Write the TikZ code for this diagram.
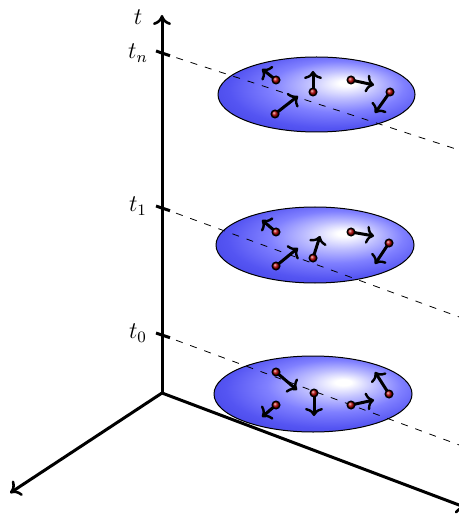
\documentclass[tikz,border=0pt]{standalone}
\usetikzlibrary{arrows.meta}
\pgfdeclareradialshading{disc}{\pgfpoint{8bp}{8bp}}{%
  color(0bp)=(white);
  color(2bp)=(white);
  color(9bp)=(blue!25!white);
  color(17bp)=(blue!50!white);
  color(26bp)=(blue!65!white!95!black);
  color(36bp)=(blue!72!white!88!black);
  color(50bp)=(blue!72!white!88!black)}
\tikzset{
  axis/.style={line width=1.5bp, -{To[length=5bp,width=9bp,line width=1.3bp]}},
  tick/.style={line width=1.5bp},
  timeline/.style={dashed, dash pattern=on 3.5bp off 4bp, line width=0.4bp},
  slice/.style={shade, shading=disc, draw=black, line width=0.5bp},
  vel/.style={line width=1.5bp, -{To[length=4bp,width=9bp,line width=1.2bp]}},
  particle/.style={ball color=red!70!black, draw=black, line width=0.7bp},
  lab/.style={inner sep=0pt, anchor=center, font=\fontsize{12}{14}\selectfont}
}
\begin{document}
\begin{tikzpicture}[x=0.5bp,y=-0.5bp]
\useasboundingbox (0,0) rectangle (459,515);

% axes
\coordinate (O) at (162,393);
\coordinate (T) at (162,15);
\coordinate (X) at (10,493);
\coordinate (Y) at (467,508);
\draw[axis] (O) -- (T);
\draw[axis] (O) -- (X);
\draw[axis] (O) -- (Y);

% time ticks
\coordinate (tn) at (162,53);
\coordinate (t1) at (162,208);
\coordinate (t0) at (162,335);
\foreach \c in {tn,t1,t0}{
  \draw[tick] ([shift={(-6,-2)}]\c) -- ([shift={(8,2.7)}]\c);
}
\node[lab] (lt) at (138,17) {$t$};
\node[lab] (ltn) at (138,53) {$t_n$};
\node[lab] (lt1) at (138,206) {$t_1$};
\node[lab] (lt0) at (138,333) {$t_0$};

% slices
\path[slice] (316.5,94.5) ellipse [x radius=98.5, y radius=37.5];
\path[slice] (315,245) ellipse [x radius=99, y radius=38];
\path[slice] (313,394) ellipse [x radius=99, y radius=38];

% dashed time lines
\coordinate (en) at (462,151);
\coordinate (e1) at (462,318);
\coordinate (e0) at (462,446);
\draw[timeline] (tn) -- (en);
\draw[timeline] (t1) -- (e1);
\draw[timeline] (t0) -- (e0);

% particles: top slice
\coordinate (a1) at (276,80);  \coordinate (a1v) at (262,69);
\coordinate (a2) at (313,92);  \coordinate (a2v) at (313,71);
\coordinate (a3) at (351,80);  \coordinate (a3v) at (374,85);
\coordinate (a4) at (390,92);  \coordinate (a4v) at (375,113);
\coordinate (a5) at (275,114); \coordinate (a5v) at (298,96);
% middle slice
\coordinate (b1) at (276,232); \coordinate (b1v) at (262,220);
\coordinate (b2) at (313,258); \coordinate (b2v) at (320,236);
\coordinate (b3) at (351,232); \coordinate (b3v) at (374,236);
\coordinate (b4) at (389,243); \coordinate (b4v) at (375,264);
\coordinate (b5) at (276,266); \coordinate (b5v) at (298,248);
% bottom slice
\coordinate (c1) at (276,372); \coordinate (c1v) at (297,390);
\coordinate (c2) at (314,393); \coordinate (c2v) at (314,416);
\coordinate (c3) at (276,405); \coordinate (c3v) at (262,417);
\coordinate (c4) at (351,405); \coordinate (c4v) at (374,400);
\coordinate (c5) at (389,394); \coordinate (c5v) at (375,372);

\foreach \p in {a1,a2,a3,a4,a5,b1,b2,b3,b4,b5,c1,c2,c3,c4,c5}{
  \draw[vel] (\p) -- (\p v);
}
\foreach \p in {a1,a2,a3,a4,a5,b1,b2,b3,b4,b5,c1,c2,c3,c4,c5}{
  \shadedraw[particle] (\p) circle [radius=3.8];
}
\end{tikzpicture}
\end{document}
